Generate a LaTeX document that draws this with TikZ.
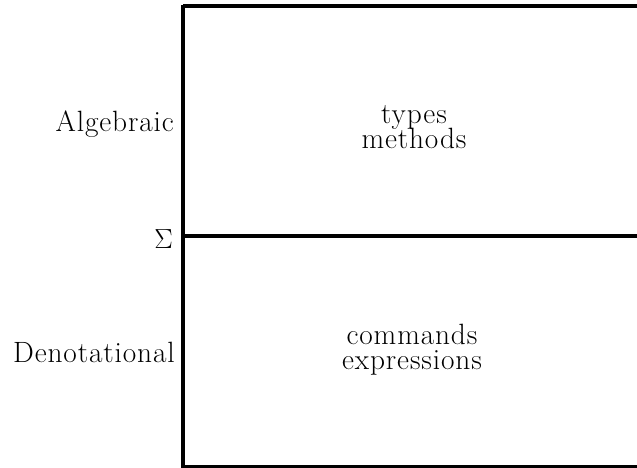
\documentclass[tikz,border=0pt]{standalone}
\usepackage{fontspec}
\newfontfamily\lblfont[LetterSpace=3]{Latin Modern Roman}
\begin{document}
\begin{tikzpicture}[x=0.75pt,y=-0.75pt,
  rule/.style={line width=3pt},
  lbl/.style={font=\lblfont\fontsize{22}{26}\selectfont, inner sep=0pt},
  upper/.style={lbl, text depth=0pt}]
\useasboundingbox (0,0) rectangle (637,468);
\coordinate (tl) at (183,6);
\coordinate (tr) at (640,6);
\coordinate (ml) at (183,236);
\coordinate (mr) at (640,236);
\coordinate (bl) at (183,466.5);
\coordinate (br) at (640,466.5);
\draw[rule] (tl) -- (tr);
\draw[rule] (ml) -- (mr);
\draw[rule] (bl) -- (br);
\draw[rule] (183,4.5) -- (183,468);
\node[lbl, anchor=base east] (alg) at (174,131) {Algebraic};
\node[lbl, anchor=base east] (den) at (175,362) {Denotational};
\node[lbl, anchor=base east] (sig) at (173,248) {$\Sigma$};
\node[upper, anchor=base] (types) at (414,123) {types};
\node[lbl, anchor=base] (methods) at (414,148) {methods};
\node[upper, anchor=base] (commands) at (412,344) {commands};
\node[lbl, anchor=base] (expr) at (412,369) {expressions};
\end{tikzpicture}
\end{document}
